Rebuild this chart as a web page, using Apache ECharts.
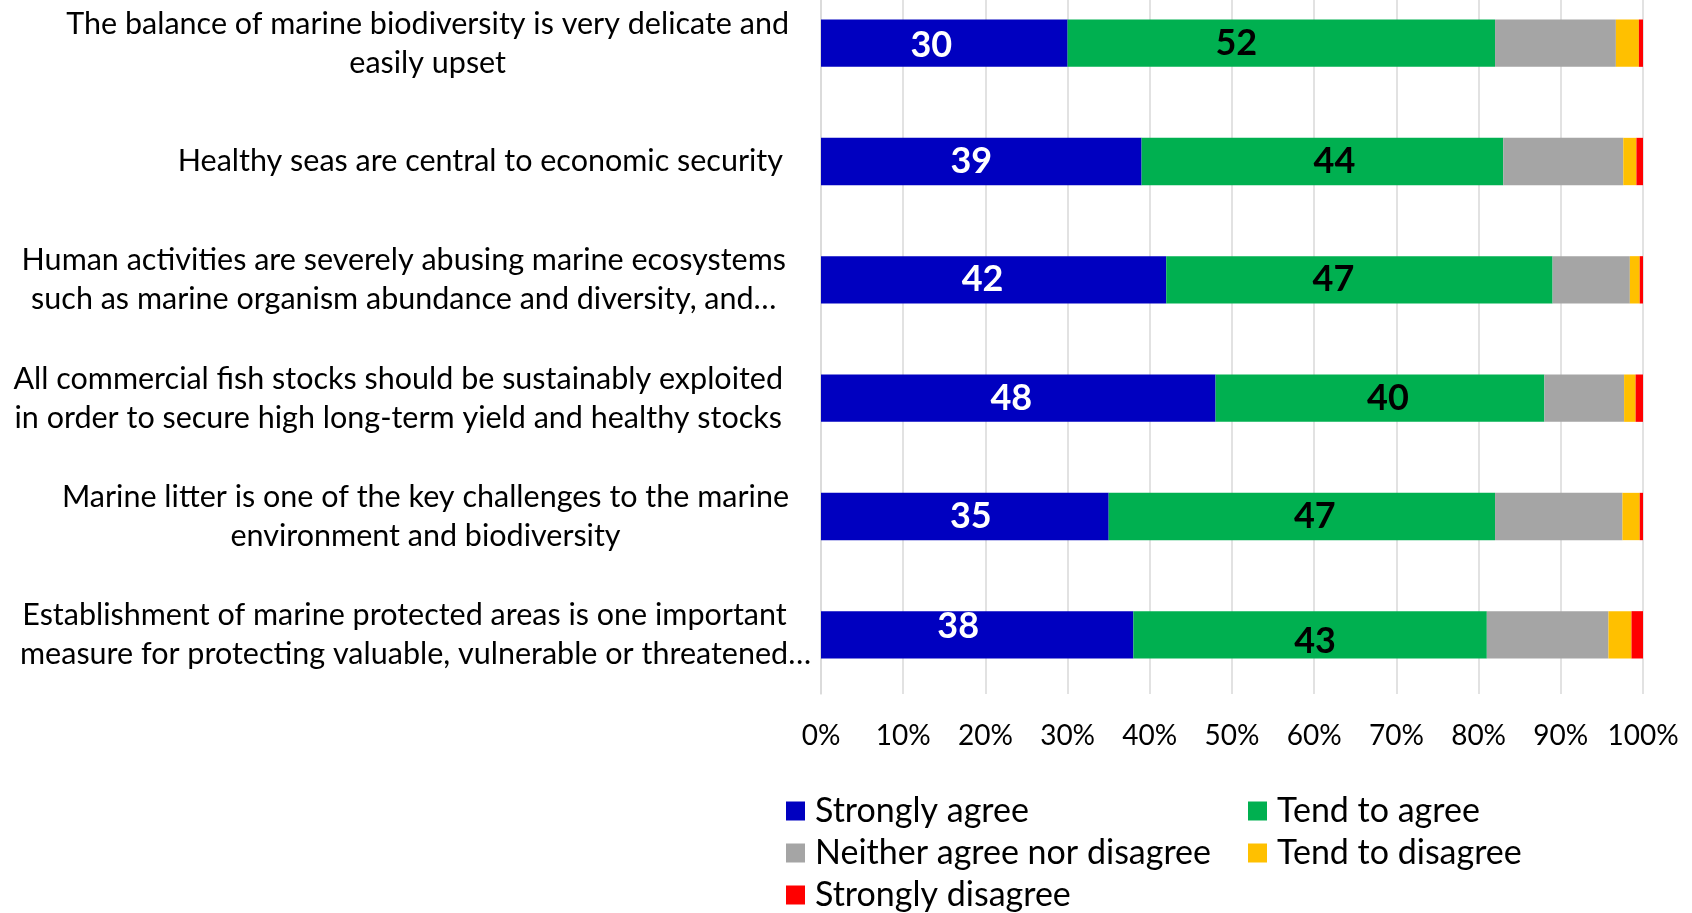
<!DOCTYPE html>
<html>
<head>
<meta charset="utf-8">
<script src="https://cdn.jsdelivr.net/npm/echarts@6/dist/echarts.min.js"></script>
<style>
  html, body { margin: 0; padding: 0; background: #fff; }
  #chart { width: 1692px; height: 913px; }
</style>
</head>
<body>
<div id="chart"></div>
<script>
// Survey statements (top to bottom)
const statements = [
  'The balance of marine biodiversity is very delicate and\neasily upset',
  'Healthy seas are central to economic security',
  'Human activities are severely abusing marine ecosystems\nsuch as marine organism abundance and diversity, and…',
  'All commercial fish stocks should be sustainably exploited\nin order to secure high long-term yield and healthy stocks',
  'Marine litter is one of the key challenges to the marine\nenvironment and biodiversity',
  'Establishment of marine protected areas is one important\nmeasure for protecting valuable, vulnerable or threatened…'
];

// Answer shares in percent, one value per statement
const stronglyAgree    = [30, 39, 42, 48, 35, 38];
const tendToAgree      = [52, 44, 47, 40, 47, 43];
const neitherNor       = [14.7, 14.6, 9.4, 9.7, 15.5, 14.8];
const tendToDisagree   = [2.8, 1.6, 1.2, 1.4, 2.1, 2.8];
const stronglyDisagree = [0.5, 0.8, 0.4, 0.9, 0.4, 1.4];

const answerNames = ['Strongly agree', 'Tend to agree', 'Neither agree nor disagree', 'Tend to disagree', 'Strongly disagree'];
const answerColors = ['#0000C0', '#00B050', '#A5A5A5', '#FFC000', '#FF0000'];

// Axis tick labels
const tickLabels = ['0%', '10%', '20%', '30%', '40%', '50%', '60%', '70%', '80%', '90%', '100%'];

// Hand-placed nudges of the value labels [dx, dy]
const agreeLabelNudge = [[-13, 2], [-10, 0], [-11, 0], [-7, 0], [6, 0], [-19, -8]];
const tendLabelNudge  = [[-45, 0], [12, 0], [-26, 0], [8, 0], [13, 0], [5, 7]];

// Horizontal shift of each statement label block (px, + = right)
const statementShift = [0, -6, -3, -6, 0, 22];

const FONT = 'Lato, "Open Sans", sans-serif';

function withNudges(values, nudges) {
  return values.map((v, i) => ({ value: v, label: { offset: nudges[i] } }));
}

const valueLabel = (color) => ({
  show: true,
  position: 'inside',
  formatter: '{c}',
  color: color,
  fontFamily: FONT,
  fontWeight: 'bold',
  fontSize: 36
});

const seriesValues = [
  withNudges(stronglyAgree, agreeLabelNudge),
  withNudges(tendToAgree, tendLabelNudge),
  neitherNor,
  tendToDisagree,
  stronglyDisagree
];

const series = answerNames.map((name, k) => ({
  name: name,
  type: 'bar',
  stack: 'total',
  barWidth: '40%',
  itemStyle: { color: answerColors[k] },
  label: k === 0 ? valueLabel('#FFFFFF') : (k === 1 ? valueLabel('#000000') : { show: false }),
  emphasis: { disabled: true },
  data: seriesValues[k]
}));

// The last statement's second line runs wider; its first line sits a bit left of it
const categoryItems = statements.map((s, i) => ({
  value: s,
  textStyle: { padding: [0, -statementShift[i], 0, 0] }
}));

const richLine = {
  align: 'center',
  fontFamily: FONT,
  fontSize: 30.5,
  lineHeight: 39,
  color: '#000000'
};

const chart = echarts.init(document.getElementById('chart'), null, { renderer: 'canvas' });

chart.setOption({
  animation: false,
  backgroundColor: '#FFFFFF',
  grid: {
    left: 821, top: -16, width: 822, height: 710,
    containLabel: false,
    outerBoundsMode: 'none'
  },
  xAxis: {
    type: 'value',
    min: 0,
    max: 100,
    interval: 10,
    axisLine: { show: false },
    axisTick: { show: false },
    splitLine: { show: true, lineStyle: { color: '#D9D9D9', width: 1.5 } },
    axisLabel: {
      margin: 27,
      fontFamily: FONT,
      fontSize: 28,
      lineHeight: 30,
      color: '#000000',
      formatter: (v) => tickLabels[Math.round(v / 10)]
    }
  },
  yAxis: {
    type: 'category',
    inverse: true,
    data: categoryItems,
    axisLine: { show: true, lineStyle: { color: '#D9D9D9', width: 1.5 } },
    axisTick: { show: false },
    axisLabel: {
      margin: 32,
      formatter: (s, idx) => {
        const lines = s.split('\n');
        const wide = lines.length > 1 && statementShift[idx] > 10;
        return lines.map((line, j) => (wide && j === 0 ? '{c1|' : '{c|') + line + '}').join('\n');
      },
      rich: {
        c: richLine,
        c1: Object.assign({}, richLine, { padding: [0, 22, 0, 0] })
      }
    }
  },
  legend: {
    left: 786,
    top: 794,
    width: 960,
    padding: 0,
    orient: 'horizontal',
    icon: 'rect',
    itemWidth: 19,
    itemHeight: 19,
    itemGap: 8,
    selectedMode: false,
    textStyle: {
      fontFamily: FONT,
      fontSize: 34,
      lineHeight: 32,
      width: 425,
      padding: [0, 0, 0, 5],
      color: '#000000'
    },
    data: answerNames
  },
  series: series
});
</script>
</body>
</html>
